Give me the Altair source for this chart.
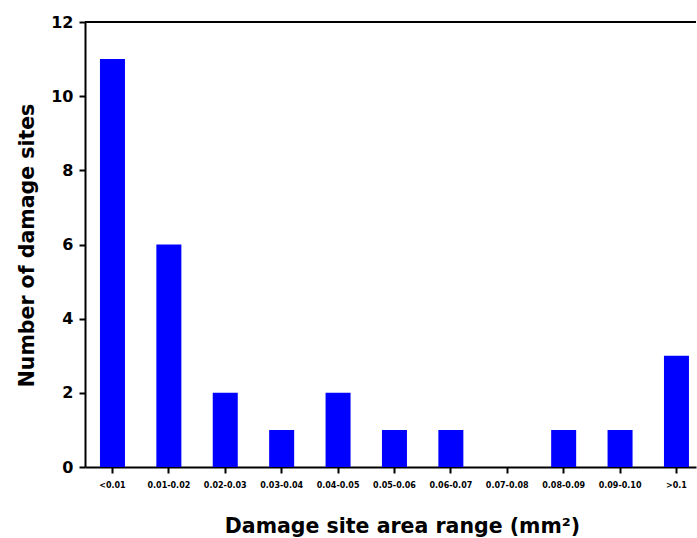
import altair as alt
import pandas as pd

categories = ["<0.01", "0.01-0.02", "0.02-0.03", "0.03-0.04", "0.04-0.05", "0.05-0.06",
              "0.06-0.07", "0.07-0.08", "0.08-0.09", "0.09-0.10", ">0.1"]
counts = [11, 6, 2, 1, 2, 1, 1, 0, 1, 1, 3]

df = pd.DataFrame({"range": categories, "count": counts})
FONT = "DejaVu Sans"

bars = alt.Chart(df).mark_bar(color="#0000FF").encode(
    x=alt.X("range:N", sort=categories,
            scale=alt.Scale(paddingInner=0.5567, paddingOuter=0.195, align=0.68),
            axis=alt.Axis(title="Damage site area range (mm²)", labelAngle=0,
                          labelFontSize=8, labelFont=FONT, labelFontWeight="bold",
                          labelColor="black", labelPadding=8,
                          tickSize=6, tickWidth=2, tickColor="black",
                          domainColor="black", domainWidth=2,
                          titleFont=FONT, titleFontSize=20.5, titleFontWeight="bold",
                          titleColor="black", titleY=65, titleX=317,
                          titleBaseline="alphabetic")),
    y=alt.Y("count:Q", scale=alt.Scale(domain=[0, 12], nice=False),
            axis=alt.Axis(title="Number of damage sites", values=[0, 2, 4, 6, 8, 10, 12],
                          labelFontSize=16, labelFont=FONT, labelFontWeight="bold",
                          labelColor="black", labelPadding=6,
                          tickSize=6, tickWidth=2, tickColor="black",
                          domainColor="black", domainWidth=2, grid=False,
                          titleFont=FONT, titleFontSize=20.5, titleFontWeight="bold",
                          titleColor="black", titleX=-52, titleY=223,
                          titleBaseline="alphabetic")),
)

top = alt.Chart(df).mark_rule(color="black", strokeWidth=2).encode(
    y=alt.datum(12)
)

chart = alt.layer(bars, top).properties(
    width=611, height=445,
    autosize=alt.AutoSizeParams(type="none"),
    padding={"left": 85, "top": 22, "right": 1, "bottom": 71},
    background="white",
).configure_view(stroke=None)

chart.save("out.html", embed_options={"renderer": "svg", "actions": False})
